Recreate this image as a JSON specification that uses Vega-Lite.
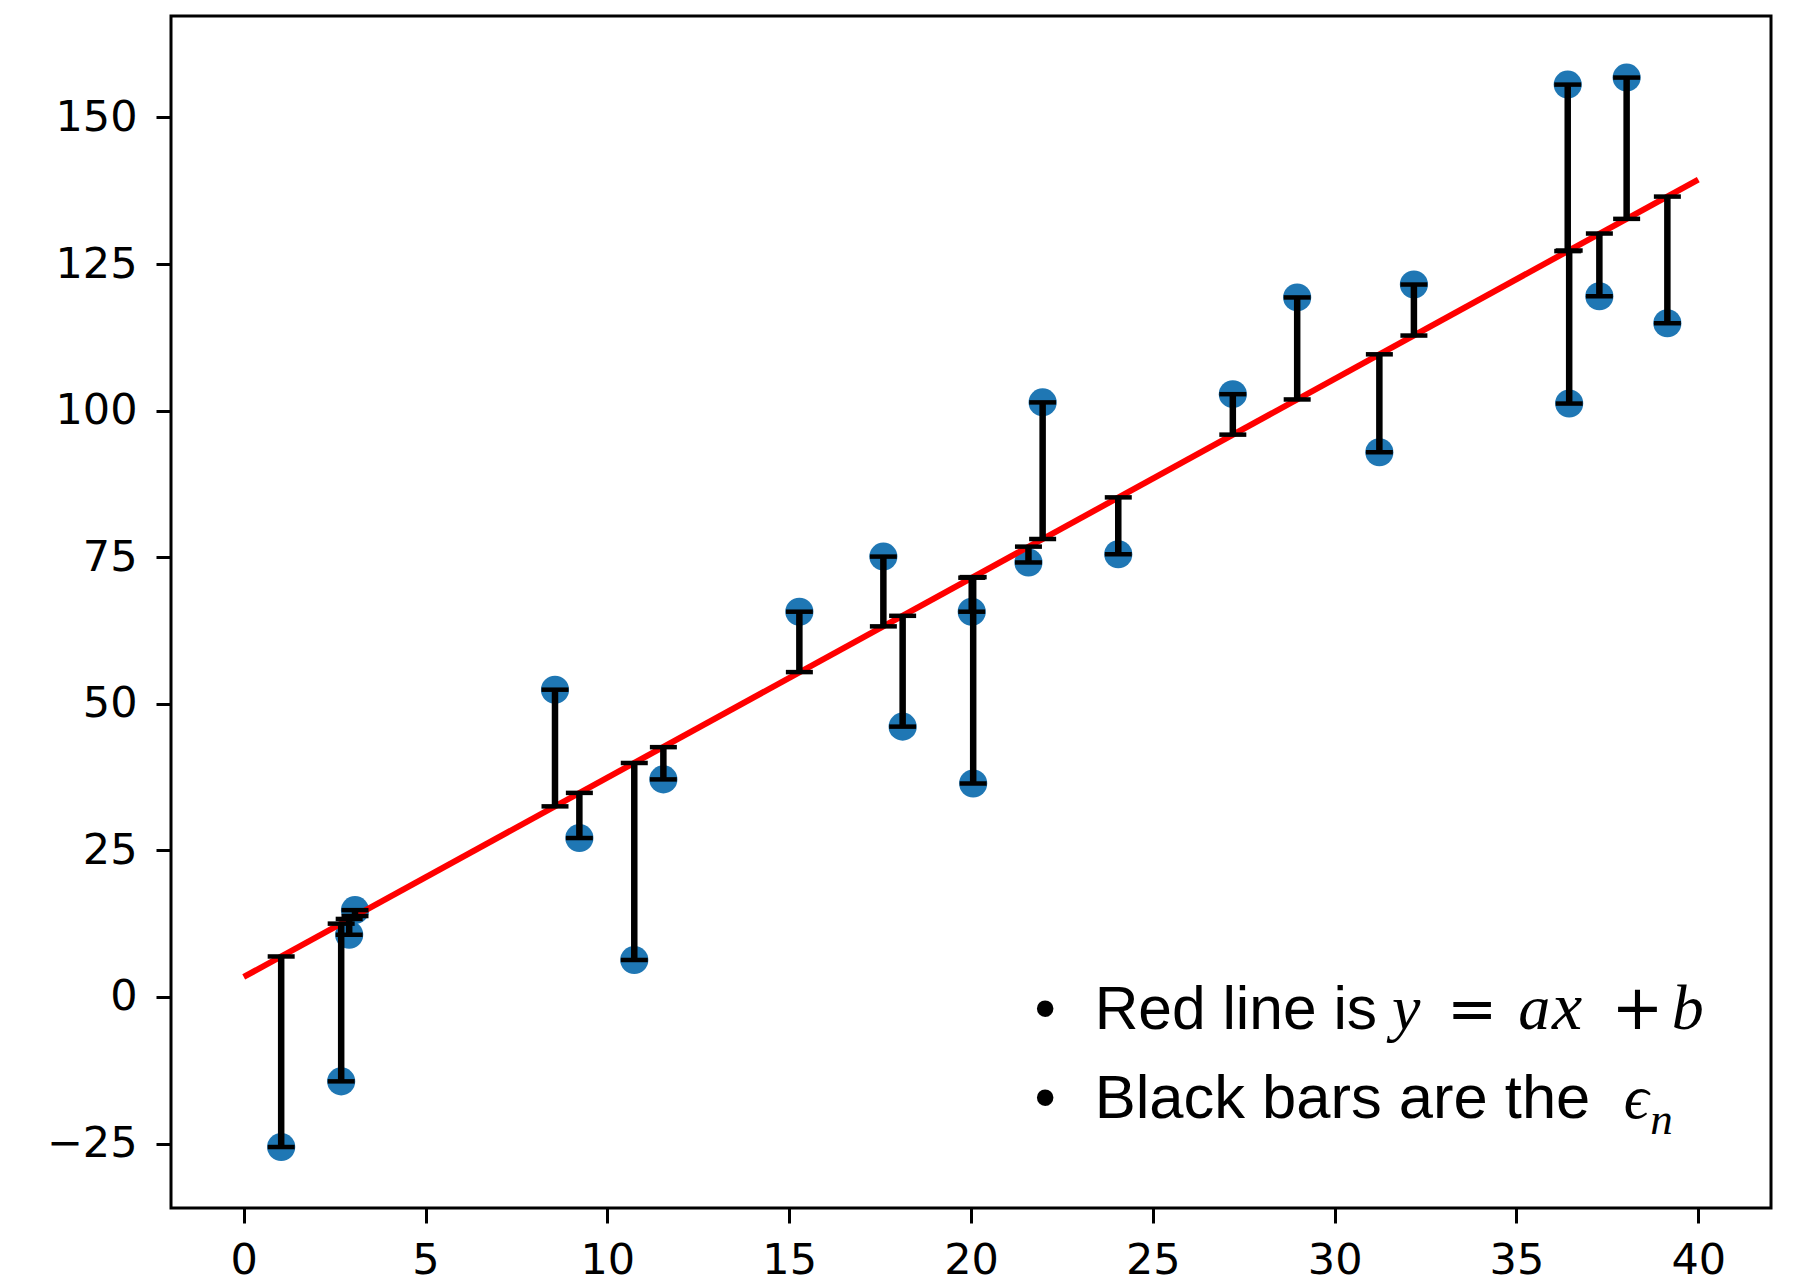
{
  "$schema": "https://vega.github.io/schema/vega-lite/v6.json",
  "width": 1600,
  "height": 1192,
  "autosize": {"type": "none"},
  "padding": {"left": 171, "top": 16, "right": 22, "bottom": 75},
  "background": "white",
  "config": {
    "view": {"stroke": "black", "strokeWidth": 3},
    "axis": {
      "domain": false,
      "grid": false,
      "ticks": true,
      "tickSize": 15,
      "tickWidth": 3,
      "tickColor": "black",
      "labelFont": "DejaVu Sans",
      "labelFontSize": 43,
      "labelColor": "black",
      "labelOverlap": false,
      "labelFlush": false,
      "title": null
    },
    "text": {"color": "black", "baseline": "alphabetic", "align": "left"}
  },
  "datasets": {
    "pts": [
      {"x": 1.03, "y": -25.6, "yhat": 6.9},
      {"x": 2.68, "y": -14.4, "yhat": 12.5},
      {"x": 2.90, "y": 10.6, "yhat": 13.3},
      {"x": 3.06, "y": 14.8, "yhat": 13.8},
      {"x": 8.56, "y": 52.4, "yhat": 32.5},
      {"x": 9.23, "y": 27.1, "yhat": 34.8},
      {"x": 10.74, "y": 6.3, "yhat": 39.9},
      {"x": 11.54, "y": 37.1, "yhat": 42.6},
      {"x": 15.28, "y": 65.7, "yhat": 55.4},
      {"x": 17.59, "y": 75.1, "yhat": 63.2},
      {"x": 18.12, "y": 46.1, "yhat": 65.0},
      {"x": 20.02, "y": 65.7, "yhat": 71.5},
      {"x": 20.06, "y": 36.4, "yhat": 71.6},
      {"x": 21.58, "y": 74.1, "yhat": 76.8},
      {"x": 21.97, "y": 101.4, "yhat": 78.1},
      {"x": 24.05, "y": 75.5, "yhat": 85.2},
      {"x": 27.20, "y": 102.8, "yhat": 95.9},
      {"x": 28.97, "y": 119.3, "yhat": 101.9},
      {"x": 31.23, "y": 92.9, "yhat": 109.6},
      {"x": 32.18, "y": 121.5, "yhat": 112.8},
      {"x": 36.41, "y": 155.6, "yhat": 127.2},
      {"x": 36.45, "y": 101.2, "yhat": 127.3},
      {"x": 37.28, "y": 119.5, "yhat": 130.2},
      {"x": 38.03, "y": 156.8, "yhat": 132.7},
      {"x": 39.15, "y": 114.9, "yhat": 136.5}
    ],
    "fit": [
      {"x": 0, "y": 3.4},
      {"x": 40, "y": 139.4}
    ],
    "one": [{}]
  },
  "layer": [
    {
      "data": {"name": "pts"},
      "mark": {"type": "point", "filled": true, "shape": "circle", "size": 790, "color": "#1f77b4", "opacity": 1},
      "encoding": {
        "x": {"field": "x", "type": "quantitative", "scale": {"domain": [-2, 42], "nice": false, "zero": false},
              "axis": {"values": [0, 5, 10, 15, 20, 25, 30, 35, 40], "labelPadding": 16, "format": "d"}},
        "y": {"field": "y", "type": "quantitative", "scale": {"domain": [-36, 167.3], "nice": false, "zero": false},
              "axis": {"values": [-25, 0, 25, 50, 75, 100, 125, 150], "labelPadding": 19, "format": "d"}}
      }
    },
    {
      "data": {"name": "fit"},
      "mark": {"type": "line", "color": "#ff0000", "strokeWidth": 6},
      "encoding": {
        "x": {"field": "x", "type": "quantitative"},
        "y": {"field": "y", "type": "quantitative"}
      }
    },
    {
      "data": {"name": "pts"},
      "mark": {"type": "rule", "color": "black", "strokeWidth": 6.5},
      "encoding": {
        "x": {"field": "x", "type": "quantitative"},
        "y": {"field": "y", "type": "quantitative"},
        "y2": {"field": "yhat"}
      }
    },
    {
      "data": {"name": "pts"},
      "mark": {"type": "tick", "orient": "horizontal", "color": "black", "size": 27, "thickness": 4.5, "opacity": 1},
      "encoding": {
        "x": {"field": "x", "type": "quantitative"},
        "y": {"field": "y", "type": "quantitative"}
      }
    },
    {
      "data": {"name": "pts"},
      "mark": {"type": "tick", "orient": "horizontal", "color": "black", "size": 27, "thickness": 4.5, "opacity": 1},
      "encoding": {
        "x": {"field": "x", "type": "quantitative"},
        "y": {"field": "yhat", "type": "quantitative"}
      }
    },
    {
      "data": {"name": "one"},
      "mark": {"type": "text", "text": "•", "font": "Liberation Sans", "fontSize": 61, "align": "center"},
      "encoding": {"x": {"datum": 22.04}, "y": {"datum": -5.4}}
    },
    {
      "data": {"name": "one"},
      "mark": {"type": "text", "text": "•", "font": "Liberation Sans", "fontSize": 61, "align": "center"},
      "encoding": {"x": {"datum": 22.04}, "y": {"datum": -20.7}}
    },
    {
      "data": {"name": "one"},
      "mark": {"type": "text", "text": "Red line is", "font": "Liberation Sans", "fontSize": 60.5},
      "encoding": {"x": {"datum": 23.4}, "y": {"datum": -5.4}}
    },
    {
      "data": {"name": "one"},
      "mark": {"type": "text", "text": "y", "font": "Liberation Serif", "fontStyle": "italic", "fontSize": 64},
      "encoding": {"x": {"datum": 31.58}, "y": {"datum": -5.4}}
    },
    {
      "data": {"name": "one"},
      "mark": {"type": "text", "text": "=", "font": "DejaVu Sans", "fontSize": 60, "align": "center"},
      "encoding": {"x": {"datum": 33.78}, "y": {"datum": -5.4}}
    },
    {
      "data": {"name": "one"},
      "mark": {"type": "text", "text": "a", "font": "Liberation Serif", "fontStyle": "italic", "fontSize": 64},
      "encoding": {"x": {"datum": 35.05}, "y": {"datum": -5.4}}
    },
    {
      "data": {"name": "one"},
      "mark": {"type": "text", "text": "x", "font": "Liberation Serif", "fontStyle": "italic", "fontSize": 68},
      "encoding": {"x": {"datum": 35.98}, "y": {"datum": -5.4}}
    },
    {
      "data": {"name": "one"},
      "mark": {"type": "text", "text": "+", "font": "DejaVu Sans", "fontSize": 62, "align": "center"},
      "encoding": {"x": {"datum": 38.33}, "y": {"datum": -5.4}}
    },
    {
      "data": {"name": "one"},
      "mark": {"type": "text", "text": "b", "font": "Liberation Serif", "fontStyle": "italic", "fontSize": 64},
      "encoding": {"x": {"datum": 39.27}, "y": {"datum": -5.4}}
    },
    {
      "data": {"name": "one"},
      "mark": {"type": "text", "text": "Black bars are the", "font": "Liberation Sans", "fontSize": 61.5},
      "encoding": {"x": {"datum": 23.4}, "y": {"datum": -20.7}}
    },
    {
      "data": {"name": "one"},
      "mark": {"type": "text", "text": "ϵ", "font": "Liberation Serif, DejaVu Serif", "fontStyle": "italic", "fontSize": 62},
      "encoding": {"x": {"datum": 37.95}, "y": {"datum": -20.7}}
    },
    {
      "data": {"name": "one"},
      "mark": {"type": "text", "text": "n", "font": "Liberation Serif", "fontStyle": "italic", "fontSize": 45},
      "encoding": {"x": {"datum": 38.68}, "y": {"datum": -23.4}}
    }
  ]
}
